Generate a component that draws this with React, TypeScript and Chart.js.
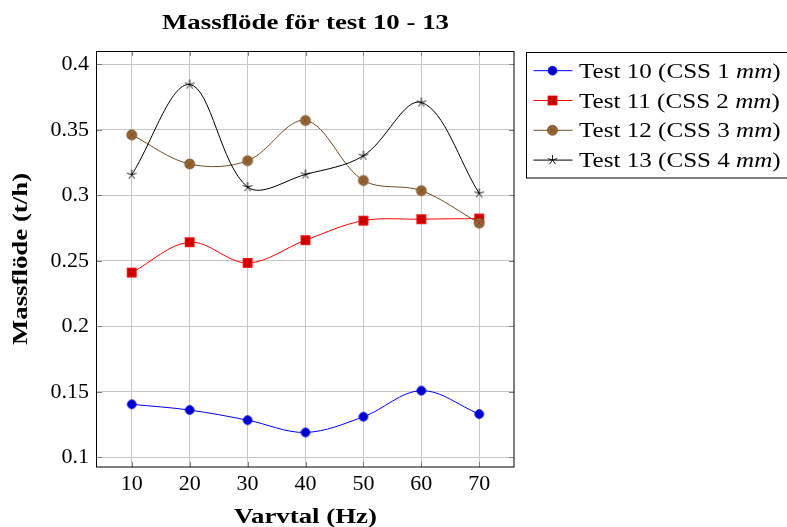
import React, { useEffect, useRef } from "react";
import { Chart, registerables } from "chart.js";

Chart.register(...registerables);

const categories = [10, 20, 30, 40, 50, 60, 70];
const test10 = [0.1404, 0.136, 0.1283, 0.1189, 0.1309, 0.1508, 0.1329];
const test11 = [0.241, 0.2642, 0.2484, 0.2658, 0.2807, 0.2818, 0.2823];
const test12 = [0.3462, 0.324, 0.3265, 0.3572, 0.3114, 0.3036, 0.2788];
const test13 = [0.3158, 0.3847, 0.3064, 0.316, 0.3303, 0.371, 0.3015];
const seriesLabels = ["Test 10 (CSS 1 ", "Test 11 (CSS 2 ", "Test 12 (CSS 3 ", "Test 13 (CSS 4 "];
const xTicks = [10, 20, 30, 40, 50, 60, 70];
const yTicks = [0.1, 0.15, 0.2, 0.25, 0.3, 0.35, 0.4];
const yTickLabels = ["0.1", "0.15", "0.2", "0.25", "0.3", "0.35", "0.4"];
const titleText = "Massflöde för test 10 - 13";
const xTitle = "Varvtal (Hz)";
const yTitle = "Massflöde (t/h)";

const SERIF = "'Liberation Serif', 'Times New Roman', serif";

type MarkerFn = (ctx: CanvasRenderingContext2D, x: number, y: number) => void;

const drawCircle: MarkerFn = (ctx, x, y) => {
  ctx.beginPath();
  ctx.arc(x, y, 4.4, 0, Math.PI * 2);
  ctx.fillStyle = "rgb(0,0,204)";
  ctx.fill();
  ctx.lineWidth = 0.8;
  ctx.strokeStyle = "rgb(0,0,255)";
  ctx.stroke();
};
const drawSquare: MarkerFn = (ctx, x, y) => {
  const h = 4.5;
  ctx.fillStyle = "rgb(204,0,0)";
  ctx.fillRect(x - h, y - h, 2 * h, 2 * h);
  ctx.lineWidth = 0.8;
  ctx.strokeStyle = "rgb(255,0,0)";
  ctx.strokeRect(x - h, y - h, 2 * h, 2 * h);
};
const drawOtimes: MarkerFn = (ctx, x, y) => {
  const r = 5;
  ctx.beginPath();
  ctx.arc(x, y, r, 0, Math.PI * 2);
  ctx.fillStyle = "rgb(153,102,51)";
  ctx.fill();
  ctx.lineWidth = 0.8;
  ctx.strokeStyle = "rgb(115,77,38)";
  ctx.stroke();
  const d = r * Math.SQRT1_2;
  ctx.beginPath();
  ctx.moveTo(x - d, y - d);
  ctx.lineTo(x + d, y + d);
  ctx.moveTo(x - d, y + d);
  ctx.lineTo(x + d, y - d);
  ctx.stroke();
};
const drawStar: MarkerFn = (ctx, x, y) => {
  const r = 5;
  ctx.beginPath();
  for (let k = 0; k < 5; k++) {
    const a = -Math.PI / 2 + (k * 2 * Math.PI) / 5;
    ctx.moveTo(x, y);
    ctx.lineTo(x + r * Math.cos(a), y + r * Math.sin(a));
  }
  ctx.lineWidth = 0.9;
  ctx.strokeStyle = "#000";
  ctx.stroke();
};

const markers: MarkerFn[] = [drawCircle, drawSquare, drawOtimes, drawStar];
const lineColors = ["rgb(0,0,255)", "rgb(255,0,0)", "rgb(115,77,38)", "rgb(0,0,0)"];

function markerCanvas(fn: MarkerFn): HTMLCanvasElement {
  const c = document.createElement("canvas");
  c.width = 14;
  c.height = 14;
  const ctx = c.getContext("2d")!;
  fn(ctx, 7, 7);
  return c;
}

type Part = { text: string; font: string };
function drawParts(
  ctx: CanvasRenderingContext2D,
  parts: Part[],
  x: number,
  y: number,
  align: "left" | "center",
  sx: number
) {
  ctx.save();
  let total = 0;
  const widths = parts.map((p) => {
    ctx.font = p.font;
    const w = ctx.measureText(p.text).width;
    total += w;
    return w;
  });
  const start = align === "center" ? x - (total * sx) / 2 : x;
  ctx.translate(start, y);
  ctx.scale(sx, 1);
  ctx.textAlign = "left";
  ctx.textBaseline = "alphabetic";
  ctx.fillStyle = "#000";
  let cx = 0;
  parts.forEach((p, i) => {
    ctx.font = p.font;
    ctx.fillText(p.text, cx, 0);
    cx += widths[i];
  });
  ctx.restore();
}

const BOLD = `bold 22px ${SERIF}`;
const REG = `22px ${SERIF}`;
const ITAL = `italic 22px ${SERIF}`;

const decorPlugin = {
  id: "decor",
  beforeDatasetsDraw(chart: any) {
    const { ctx, chartArea: a, scales } = chart;
    ctx.save();
    ctx.strokeStyle = "rgb(128,128,128)";
    ctx.lineWidth = 1;
    const tl = 5;
    xTicks.forEach((v) => {
      const px = Math.round(scales.x.getPixelForValue(v)) + 0.5;
      ctx.beginPath();
      ctx.moveTo(px, a.bottom);
      ctx.lineTo(px, a.bottom - tl);
      ctx.moveTo(px, a.top);
      ctx.lineTo(px, a.top + tl);
      ctx.stroke();
    });
    yTicks.forEach((v) => {
      const py = Math.round(scales.y.getPixelForValue(v)) + 0.5;
      ctx.beginPath();
      ctx.moveTo(a.left, py);
      ctx.lineTo(a.left + tl, py);
      ctx.moveTo(a.right, py);
      ctx.lineTo(a.right - tl, py);
      ctx.stroke();
    });
    ctx.restore();
  },
  afterDraw(chart: any) {
    const { ctx, chartArea: a } = chart;
    ctx.save();
    // frame
    ctx.strokeStyle = "#000";
    ctx.lineWidth = 1;
    ctx.strokeRect(Math.round(a.left) - 0.5, Math.round(a.top) + 0.5, Math.round(a.right - a.left) + 0.5, Math.round(a.bottom - a.top) - 0.5);
    const cx = (a.left + a.right) / 2;
    // title
    drawParts(ctx, [{ text: titleText, font: BOLD }], cx, 29, "center", 1.22);
    // x title
    drawParts(ctx, [{ text: xTitle, font: BOLD }], cx, 523, "center", 1.22);
    // y title
    ctx.save();
    ctx.translate(27, (a.top + a.bottom) / 2);
    ctx.rotate(-Math.PI / 2);
    drawParts(ctx, [{ text: yTitle, font: BOLD }], 0, 0, "center", 1.22);
    ctx.restore();
    // legend
    const lx = 526.5;
    const ly = 52.5;
    ctx.strokeStyle = "#000";
    ctx.lineWidth = 1;
    ctx.strokeRect(lx, ly, 300, 125.5);
    seriesLabels.forEach((lab, i) => {
      const yc = 70.7 + i * 29.8;
      ctx.beginPath();
      ctx.moveTo(533.5, yc);
      ctx.lineTo(572.5, yc);
      ctx.strokeStyle = lineColors[i];
      ctx.lineWidth = 1;
      ctx.stroke();
      markers[i](ctx, 552.5, yc);
      drawParts(
        ctx,
        [
          { text: lab, font: REG },
          { text: "mm", font: ITAL },
          { text: ")", font: REG },
        ],
        579,
        yc + 7,
        "left",
        1.14
      );
    });
    ctx.restore();
  },
};

export default function App() {
  const ref = useRef<HTMLCanvasElement | null>(null);
  useEffect(() => {
    if (!ref.current) return;
    const seriesData = [test10, test11, test12, test13];
    const datasets = seriesData.map((vals, i) => ({
      label: seriesLabels[i] + "mm)",
      data: categories.map((c, j) => ({ x: c, y: vals[j] })),
      borderColor: lineColors[i],
      backgroundColor: lineColors[i],
      borderWidth: 1,
      tension: 0.35,
      pointStyle: markerCanvas(markers[i]),
      pointRadius: 5,
      pointHoverRadius: 5,
      order: 3 - i,
      clip: false as any,
    }));
    const chart = new Chart(ref.current, {
      type: "line",
      data: { datasets },
      plugins: [decorPlugin],
      options: {
        animation: false,
        responsive: false,
        maintainAspectRatio: false,
        events: [],
        layout: { padding: { top: 51, right: 273, bottom: 0, left: 0 } },
        plugins: { legend: { display: false }, title: { display: false }, tooltip: { enabled: false } },
        scales: {
          x: {
            type: "linear",
            min: 4,
            max: 76,
            afterBuildTicks: (s: any) => {
              s.ticks = xTicks.map((v) => ({ value: v }));
            },
            afterFit: (s: any) => {
              s.height = 60;
            },
            ticks: {
              color: "#000",
              font: { family: SERIF, size: 22 },
              padding: 4,
              callback: (v: any) => String(v),
              maxRotation: 0,
            },
            grid: { color: "rgb(200,200,200)", lineWidth: 1, drawTicks: false },
            border: { display: false },
          },
          y: {
            type: "linear",
            min: 0.0925,
            max: 0.4103,
            afterBuildTicks: (s: any) => {
              s.ticks = yTicks.map((v) => ({ value: v }));
            },
            afterFit: (s: any) => {
              s.width = 97;
            },
            ticks: {
              color: "#000",
              font: { family: SERIF, size: 22 },
              padding: 8,
              callback: (v: any) => {
                const idx = yTicks.findIndex((t) => Math.abs(t - v) < 1e-9);
                return idx >= 0 ? yTickLabels[idx] : "";
              },
            },
            grid: { color: "rgb(200,200,200)", lineWidth: 1, drawTicks: false },
            border: { display: false },
          },
        },
      },
    });
    return () => chart.destroy();
  }, []);
  return (
    <div style={{ position: "absolute", left: 0, top: 0, width: 787, height: 527, background: "#fff" }}>
      <canvas ref={ref} width={787} height={527} style={{ display: "block" }} />
    </div>
  );
}
